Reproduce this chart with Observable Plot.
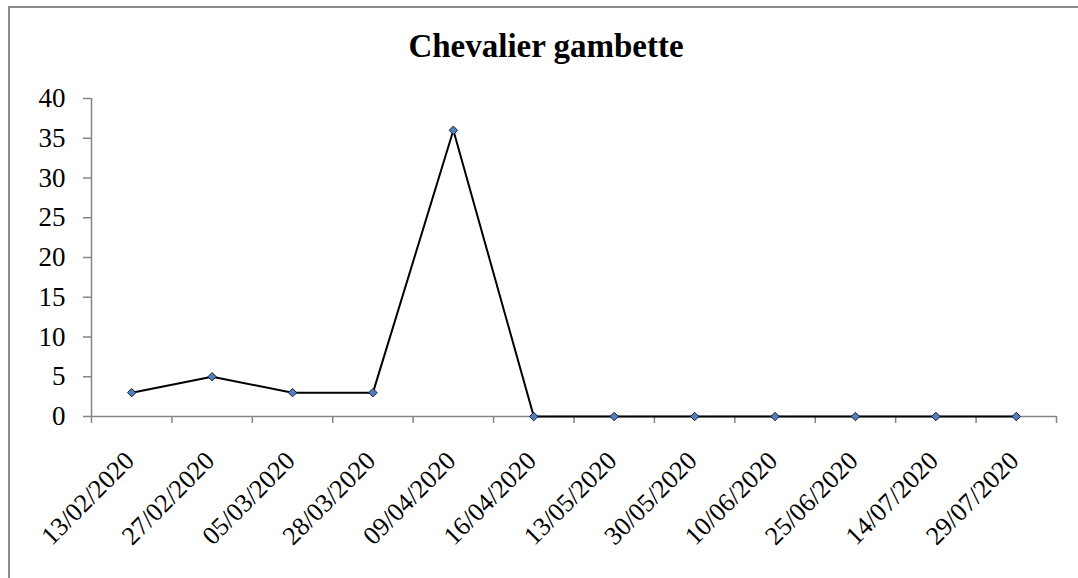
<!DOCTYPE html>
<html>
<head>
<meta charset="utf-8">
<script src="https://cdn.jsdelivr.net/npm/d3@7"></script>
<script src="https://cdn.jsdelivr.net/npm/@observablehq/plot@0.6"></script>
<style>
  html, body { margin: 0; padding: 0; background: #fff; }
  #wrap { position: relative; width: 1078px; height: 578px; overflow: hidden; }
  #border { position: absolute; left: 8px; top: 6px; width: 1200px; height: 700px;
    border-left: 2px solid #8c8c8c; border-top: 2px solid #8c8c8c; box-sizing: border-box; }
  #title { position: absolute; left: 0; width: 1092px; top: 30px; text-align: center; line-height: 1;
    font-family: "Liberation Serif", "Times New Roman", serif; font-weight: bold; font-size: 33px; color: #000; }
  #chart { position: absolute; left: 0; top: 0; }
</style>
</head>
<body>
<div id="wrap">
  <div id="border"></div>
  <div id="chart"></div>
  <div id="title">Chevalier gambette</div>
</div>
<script>
const dates = ["13/02/2020","27/02/2020","05/03/2020","28/03/2020","09/04/2020","16/04/2020",
               "13/05/2020","30/05/2020","10/06/2020","25/06/2020","14/07/2020","29/07/2020"];
const counts = [3, 5, 3, 3, 36, 0, 0, 0, 0, 0, 0, 0];
const yTicks = [0, 5, 10, 15, 20, 25, 30, 35, 40];

const data = dates.map((d, i) => ({date: d, idx: i, value: counts[i]}));
const boundaries = d3.range(dates.length + 1);
const gray = "#868686";
const font = "'Liberation Serif', 'Times New Roman', serif";

const chart = Plot.plot({
  width: 1078,
  height: 578,
  marginLeft: 91,
  marginRight: 22,
  marginTop: 98,
  marginBottom: 162,
  style: {fontFamily: font, fontSize: "26px", color: "#000", background: "transparent"},
  x: {type: "linear", domain: [0, dates.length]},
  y: {domain: [0, 40]},
  marks: [
    Plot.axisY({ticks: yTicks, tickSize: 8, tickPadding: 18, stroke: gray, strokeWidth: 1.5,
      fill: "#000", fontSize: 27, label: null}),
    Plot.axisX({ticks: boundaries, tickSize: 7, tickFormat: () => "", stroke: gray, strokeWidth: 1.5, label: null}),
    Plot.ruleY([0], {stroke: gray, strokeWidth: 1.5}),
    Plot.ruleX([0], {stroke: gray, strokeWidth: 1.5}),
    Plot.text(data, {x: d => d.idx + 0.5, frameAnchor: "bottom", text: "date", rotate: -45,
      textAnchor: "end", lineAnchor: "middle", dx: -2, dy: 40, fontSize: 26, fill: "#000"}),
    Plot.line(data, {x: d => d.idx + 0.5, y: "value", stroke: "#000", strokeWidth: 2}),
    Plot.dot(data, {x: d => d.idx + 0.5, y: "value", symbol: "diamond2", r: 3.8,
      fill: "#4f81bd", stroke: "#1a1a2e", strokeWidth: 1})
  ]
});
document.getElementById("chart").appendChild(chart);
</script>
</body>
</html>
